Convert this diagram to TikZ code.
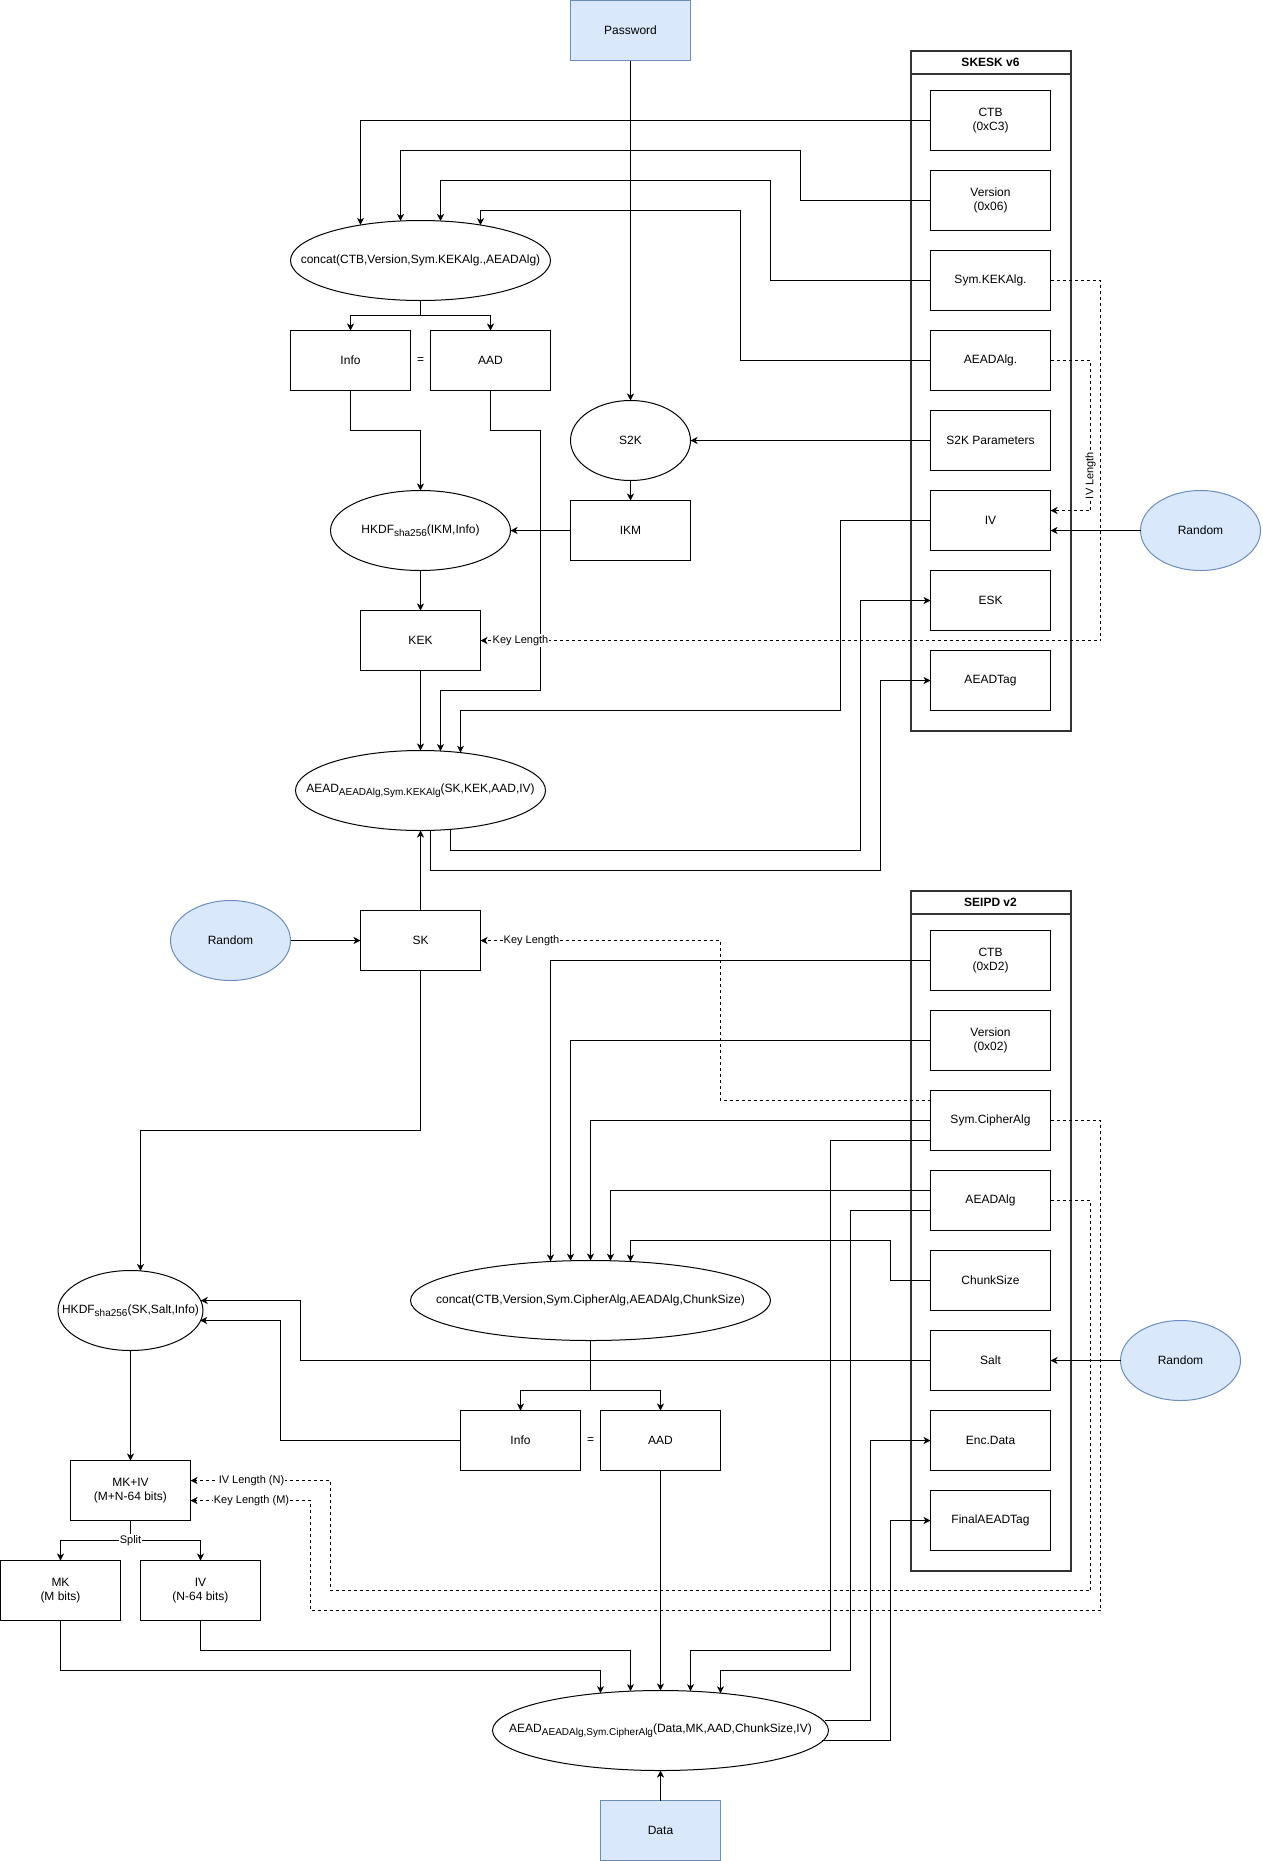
\documentclass[tikz,border=0pt]{standalone}
\usepackage{amsmath,mathtools}
\usepackage{fontspec}
\setmainfont{Liberation Sans}
\usepackage{tikz}
\usetikzlibrary{arrows.meta,shapes.geometric}
\usepackage{xcolor}
\definecolor{inbg}{RGB}{218,232,252}
\definecolor{inline}{RGB}{108,142,191}
\newcommand{\lowtxt}[1]{\raisebox{-3pt}{\fontsize{10}{12}\selectfont #1}}

\begin{document}
\begin{tikzpicture}[x=1pt,y=-1pt,line width=1pt,
    font=\fontsize{12}{14}\selectfont,
    blk/.style={draw,rectangle,minimum width=120pt,minimum height=60pt,inner sep=0pt,outer sep=0pt,align=center},
    inp/.style={blk,fill=inbg,draw=inline},
    oval/.style={draw,ellipse,inner sep=0pt,outer sep=0pt,minimum height=80pt},
    rnd/.style={oval,fill=inbg,draw=inline,minimum width=120pt},
    lane/.style={draw=black!80,line width=2pt,rectangle,minimum width=160pt,inner sep=0pt,outer sep=0pt},
    hdr/.style={font=\fontsize{12}{14}\selectfont\bfseries},
    arr/.style={-{Stealth[length=7pt,width=7pt,inset=2pt]}},
    dsh/.style={arr,dash pattern=on 3pt off 3pt},
    lbl/.style={fill=white,inner sep=1pt,font=\fontsize{11}{13}\selectfont}]
  \useasboundingbox (-0.5,-0.5) rectangle (1261.5,1860.5);
  % SKESK v6
  \node[lane,minimum height=680pt] (skesk) at (990,390) {};
  \draw[draw=black!80,line width=2pt] ([yshift=-23pt]skesk.north west) -- ([yshift=-23pt]skesk.north east);
  \node[hdr] (skeskT) at (990,61.5) {SKESK v6};
  \foreach \nm/\y/\txt in {ctbA/120/{CTB\\(0xC3)},verA/200/{Version\\(0x06)},kekalg/280/{Sym.KEKAlg.},aeadA/360/{AEADAlg.},s2kp/440/{S2K Parameters},ivA/520/{IV},esk/600/{ESK},tagA/680/{AEADTag}}
    \node[blk,fill=white] (\nm) at (990,\y) {\txt};
  % SEIPD v2
  \node[lane,minimum height=680pt] (seipd) at (990,1230) {};
  \draw[draw=black!80,line width=2pt] ([yshift=-23pt]seipd.north west) -- ([yshift=-23pt]seipd.north east);
  \node[hdr] (seipdT) at (990,901.5) {SEIPD v2};
  \foreach \nm/\y/\txt in {ctbB/960/{CTB\\(0xD2)},verB/1040/{Version\\(0x02)},cipalg/1120/{Sym.CipherAlg},aeadB/1200/{AEADAlg},chunk/1280/{ChunkSize},salt/1360/{Salt},encdata/1440/{Enc.Data},ftag/1520/{FinalAEADTag}}
    \node[blk,fill=white] (\nm) at (990,\y) {\txt};

  \node[inp] (pw) at (630,30) {Password};
  \node[rnd] (rndA) at (1200,530) {Random};
  \node[oval,minimum width=260pt] (catA) at (420,260) {\clap{concat(CTB,Version,Sym.KEKAlg.,AEADAlg)}};
  \node[blk] (infoA) at (350,360) {Info};
  \node[blk] (aadA) at (490,360) {AAD};
  \node (eqA) at (420,360) {=};
  \node[oval,minimum width=120pt] (s2k) at (630,440) {S2K};
  \node[blk] (ikm) at (630,530) {IKM};
  \node[oval,minimum width=180pt] (hkdfA) at (420,530) {\clap{HKDF\lowtxt{sha256}(IKM,Info)}};
  \node[blk] (kek) at (420,640) {KEK};
  \node[oval,minimum width=250pt] (encA) at (420,790) {\clap{AEAD\lowtxt{AEADAlg,Sym.KEKAlg}(SK,KEK,AAD,IV)}};
  \node[blk] (sk) at (420,940) {SK};
  \node[rnd] (rndB) at (230,940) {Random};
  \node[rnd] (rndC) at (1180,1360) {Random};
  \node[oval,minimum width=360pt] (catB) at (590,1300) {\clap{concat(CTB,Version,Sym.CipherAlg,AEADAlg,ChunkSize)}};
  \node[blk] (infoB) at (520,1440) {Info};
  \node[blk] (aadB) at (660,1440) {AAD};
  \node (eqB) at (590,1440) {=};
  \node[oval,minimum width=145pt] (hkdfB) at (130,1310) {\clap{HKDF\lowtxt{sha256}(SK,Salt,Info)}};
  \node[blk] (mkiv) at (130,1490) {MK+IV\\(M+N-64 bits)};
  \node[blk] (mk) at (60,1590) {MK\\(M bits)};
  \node[blk] (ivB) at (200,1590) {IV\\(N-64 bits)};
  \node[oval,minimum width=336pt] (encB) at (660,1730) {\clap{AEAD\lowtxt{AEADAlg,Sym.CipherAlg}(Data,MK,AAD,ChunkSize,IV)}};
  \node[inp] (data) at (660,1830) {Data};

  \draw[arr] (pw) -- (s2k);
  \draw[arr] (ctbA.west) -| (360,0 |- catA.149.4);
  \draw[arr] (verA.west) -| (800,150) -| (400,0 |- catA.116.8);
  \draw[arr] (kekalg.west) -| (770,180) -| (440,0 |- catA.63.2);
  \draw[arr] (aeadA.west) -| (740,210) -| (480,0 |- catA.30.6);
  \draw[arr] (catA.south) -- (420,315) -| (infoA.north);
  \draw[arr] (catA.south) -- (420,315) -| (aadA.north);
  \draw[arr] (infoA.south) |- (420,430) -- (hkdfA.north);
  \draw[arr] (aadA.south) |- (540,430) |- (440,690) -- (440,0 |- encA.63.1);
  \draw[arr] (s2kp) -- (s2k);
  \draw[arr] (s2k) -- (ikm);
  \draw[arr] (ikm) -- (hkdfA);
  \draw[arr] (hkdfA) -- (kek);
  \draw[arr] (kek) -- (encA);
  \draw[arr] (ivA.west) -| (840,710) -| (460,0 |- encA.43.5);
  \draw[arr] (450,0 |- encA.307.7) |- (860,850) |- (esk.west);
  \draw[arr] (430,0 |- encA.284.1) |- (880,870) |- (tagA.west);
  \draw[arr] (rndA) -- ([yshift=-10pt]ivA.east);
  \draw[dsh] (aeadA.east) -| (1090,510) -- ([yshift=10pt]ivA.east);
  \draw[dsh] (kekalg.east) -| (1100,640) -- (kek.east);
  \node[lbl,rotate=90] (ivlA) at (1090,475) {IV Length};
  \node[lbl] (klA) at (520,640) {Key Length};
  \draw[arr] (sk) -- (encA);
  \draw[arr] (rndB) -- (sk);
  \draw[arr] (sk.south) |- (140,1130) -- (140,0 |- hkdfB.75.8);

  \draw[arr] (ctbB.west) -| (550,0 |- catB.135.7);
  \draw[arr] (verB.west) -| (570,0 |- catB.116.7);
  \draw[arr] (cipalg.west) -| (catB.north);
  \draw[arr] ([yshift=10pt]aeadB.west) -| (610,0 |- catB.63.3);
  \draw[arr] (chunk.west) -| (890,1240) -| (630,0 |- catB.44.3);
  \draw[dsh] ([yshift=20pt]cipalg.west) -| (720,940) -- (sk.east);
  \node[lbl] (klB) at (531,940) {Key Length};
  \draw[arr] (rndC) -- (salt);
  \draw[arr] (salt.west) -| (300,1300) -- (hkdfB.8.1 |- 0,1300);
  \draw[arr] (infoB.west) -| (280,1320) -- (hkdfB.351.9 |- 0,1320);
  \draw[arr] (catB.south) -- (590,1390) -| (infoB.north);
  \draw[arr] (catB.south) -- (590,1390) -| (aadB.north);
  \draw[arr] (hkdfB) -- (mkiv);
  \draw[arr] (mkiv.south) -- (130,1540) -| (mk.north);
  \draw[arr] (mkiv.south) -- (130,1540) -| (ivB.north);
  \node[lbl] (splitL) at (130,1540) {Split};
  \draw[dsh] (aeadB.east) -| (1090,1590) -| (330,1480) -- ([yshift=10pt]mkiv.east);
  \draw[dsh] (cipalg.east) -| (1100,1610) -| (310,1500) -- ([yshift=-10pt]mkiv.east);
  \node[lbl] (ivlB) at (251,1480) {IV Length (N)};
  \node[lbl] (klM) at (251,1500) {Key Length (M)};
  \draw[arr] (mk.south) |- (600,1670) -- (600,0 |- encB.148.1);
  \draw[arr] (ivB.south) |- (630,1650) -- (630,0 |- encB.127.3);
  \draw[arr] (aadB) -- (encB);
  \draw[arr] ([yshift=-20pt]cipalg.west) -| (830,1650) -| (690,0 |- encB.52.7);
  \draw[arr] ([yshift=-10pt]aeadB.west) -| (850,1670) -| (720,0 |- encB.31.9);
  \draw[arr] (encB.3.5 |- 0,1720) -| (870,1440) -- (encdata.west);
  \draw[arr] (encB.356.5 |- 0,1740) -| (890,1520) -- (ftag.west);
  \draw[arr] (data) -- (encB);
\end{tikzpicture}
\end{document}
